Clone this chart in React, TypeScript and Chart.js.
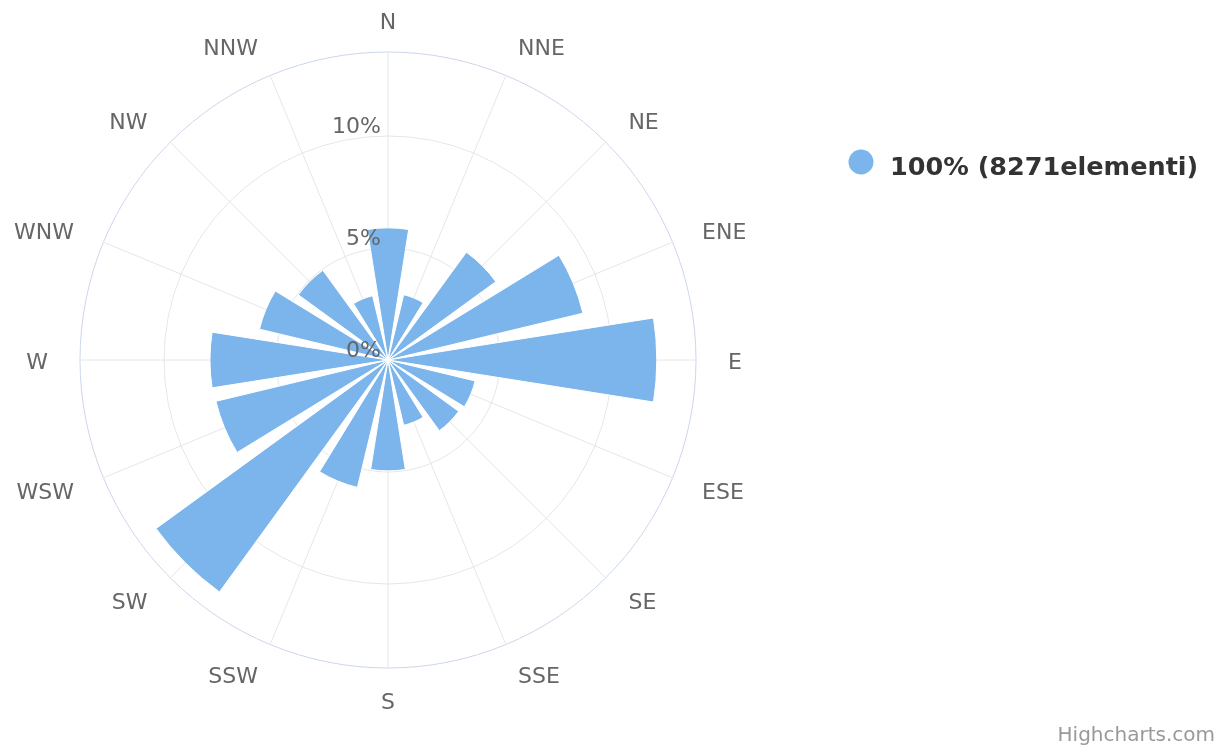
import React, { useEffect, useRef } from 'react';
import { Chart, registerables } from 'chart.js';

Chart.register(...registerables);

// ---- data ----
const directions = ['N', 'NNE', 'NE', 'ENE', 'E', 'ESE', 'SE', 'SSE', 'S', 'SSW', 'SW', 'WSW', 'W', 'WNW', 'NW', 'NNW'];
const frequencies = [5.9, 3.0, 5.95, 8.95, 12.0, 4.0, 3.9, 3.0, 4.95, 5.85, 12.8, 7.9, 7.95, 5.9, 4.95, 2.95];
const radialTickValues = [0, 5, 10];
const radialTickLabels = ['0%', '5%', '10%'];
const seriesName = '100% (8271elementi)';
const creditText = 'Highcharts.com';
const AXIS_MAX = 13.75;

// ---- styling ----
const BAR_COLOR = '#7cb5ec';
const GRID_COLOR = '#e6e6e6';
const AXIS_LINE_COLOR = '#ccd6eb';
const LABEL_COLOR = '#666666';
const FONT = '"DejaVu Sans", sans-serif';
const SLOT = 360 / directions.length;
const BAR_ANGLE = 18;
const GAP_ANGLE = SLOT - BAR_ANGLE;

const decorPlugin = {
  id: 'windRoseDecor',
  beforeDatasetsDraw(chart: any) {
    const s = chart.scales.r;
    const ctx = chart.ctx as CanvasRenderingContext2D;
    const cx = s.xCenter;
    const cy = s.yCenter;
    const R = s.getDistanceFromCenterForValue(AXIS_MAX);
    ctx.save();
    ctx.strokeStyle = GRID_COLOR;
    ctx.lineWidth = 1;
    directions.forEach((_, i) => {
      const a = ((i * SLOT - 90) * Math.PI) / 180;
      ctx.beginPath();
      ctx.moveTo(cx, cy);
      ctx.lineTo(cx + R * Math.cos(a), cy + R * Math.sin(a));
      ctx.stroke();
    });
    ctx.restore();
  },
  afterDatasetsDraw(chart: any) {
    const s = chart.scales.r;
    const ctx = chart.ctx as CanvasRenderingContext2D;
    const cx = s.xCenter;
    const cy = s.yCenter;
    const R = s.getDistanceFromCenterForValue(AXIS_MAX);
    ctx.save();
    // radial tick labels
    ctx.font = `22px ${FONT}`;
    ctx.fillStyle = LABEL_COLOR;
    ctx.textBaseline = 'alphabetic';
    ctx.textAlign = 'right';
    radialTickValues.forEach((v, i) => {
      const r = s.getDistanceFromCenterForValue(v);
      ctx.fillText(radialTickLabels[i], cx - 7, cy - r - 3.5);
    });
    // direction labels
    const dist = R + 32;
    directions.forEach((d, i) => {
      const deg = i * SLOT;
      const a = (deg * Math.PI) / 180;
      const x = cx + dist * Math.sin(a);
      const y = cy - dist * Math.cos(a);
      ctx.textAlign = deg === 0 || deg === 180 ? 'center' : deg < 180 ? 'left' : 'right';
      ctx.fillText(d, x, y + 9);
    });
    ctx.restore();
  },
  afterDraw(chart: any) {
    const ctx = chart.ctx as CanvasRenderingContext2D;
    ctx.save();
    // legend
    ctx.fillStyle = BAR_COLOR;
    ctx.beginPath();
    ctx.arc(861, 162, 12.5, 0, Math.PI * 2);
    ctx.fill();
    ctx.fillStyle = '#333333';
    ctx.font = `bold 25.5px ${FONT}`;
    ctx.textAlign = 'left';
    ctx.textBaseline = 'alphabetic';
    ctx.fillText(seriesName, 890, 175);
    // credits
    ctx.fillStyle = '#999999';
    ctx.font = `20px ${FONT}`;
    ctx.textAlign = 'right';
    ctx.fillText(creditText, 1215, 741);
    ctx.restore();
  },
};

export default function App() {
  const canvasRef = useRef<HTMLCanvasElement | null>(null);

  useEffect(() => {
    if (!canvasRef.current) return;
    const labels: string[] = [];
    const values: number[] = [];
    directions.forEach((d, i) => {
      labels.push(d, '');
      values.push(frequencies[i], 0);
    });
    const chart = new Chart(canvasRef.current, {
      type: 'polarArea',
      data: {
        labels,
        datasets: [
          {
            label: seriesName,
            data: values,
            backgroundColor: (c: any) => (c.dataIndex % 2 === 0 ? BAR_COLOR : 'rgba(0,0,0,0)'),
            borderColor: '#ffffff',
            borderWidth: (c: any) => (c.dataIndex % 2 === 0 ? 1 : 0),
            angle: (c: any) => (c.dataIndex % 2 === 0 ? BAR_ANGLE : GAP_ANGLE),
          } as any,
        ],
      },
      options: {
        animation: false,
        responsive: false,
        layout: { padding: { left: 80, top: 52, right: 524, bottom: 81 } },
        plugins: {
          legend: { display: false },
          tooltip: { enabled: false },
          title: { display: false },
        },
        scales: {
          r: {
            min: 0,
            max: AXIS_MAX,
            startAngle: -BAR_ANGLE / 2,
            ticks: { display: false, stepSize: 5 },
            angleLines: { display: false },
            pointLabels: { display: false },
            grid: {
              circular: true,
              lineWidth: 1,
              color: (c: any) =>
                c.tick && c.tick.value >= AXIS_MAX - 0.001 ? AXIS_LINE_COLOR : GRID_COLOR,
            },
          },
        },
      } as any,
      plugins: [decorPlugin],
    });
    return () => chart.destroy();
  }, []);

  return (
    <div style={{ position: 'absolute', left: 0, top: 0, width: 1220, height: 749, background: '#ffffff' }}>
      <canvas ref={canvasRef} width={1220} height={749} style={{ display: 'block' }} />
    </div>
  );
}
